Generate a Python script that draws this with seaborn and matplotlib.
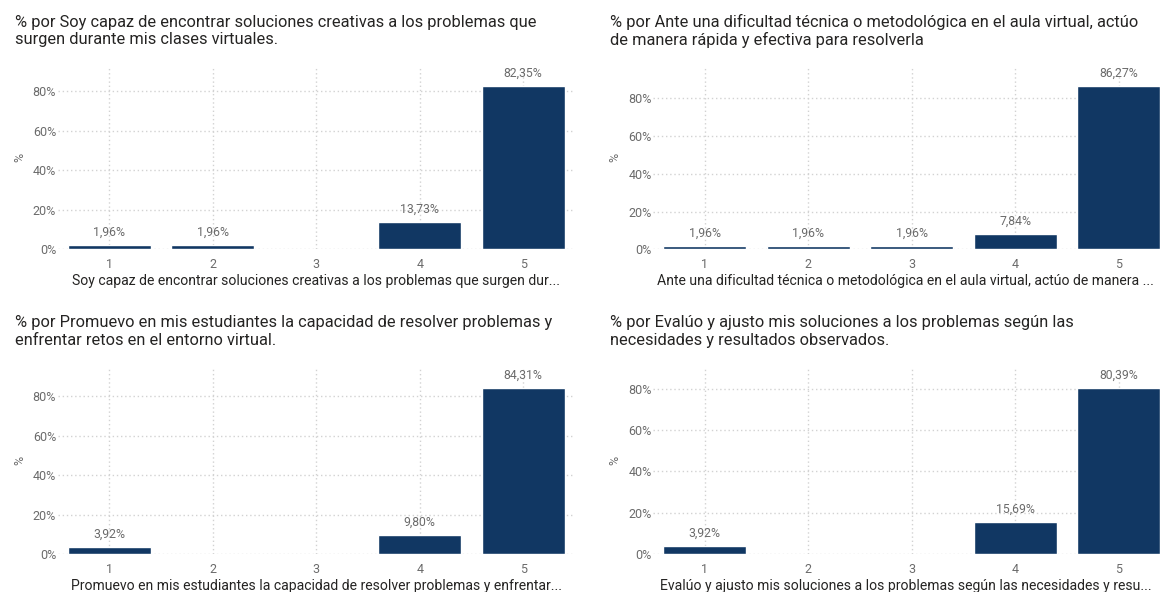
import numpy as np
import pandas as pd
import matplotlib
matplotlib.use("Agg")
import matplotlib.pyplot as plt
import seaborn as sns

# Survey responses (Likert 1-5), share of respondents in %
categories = ["1", "2", "3", "4", "5"]
creativas = [1.96, 1.96, None, 13.73, 82.35]
dificultad = [1.96, 1.96, 1.96, 7.84, 86.27]
promuevo = [3.92, None, None, 9.80, 84.31]
evaluo = [3.92, None, None, 15.69, 80.39]

titles = [
    "% por Soy capaz de encontrar soluciones creativas a los problemas que\nsurgen durante mis clases virtuales.",
    "% por Ante una dificultad técnica o metodológica en el aula virtual, actúo\nde manera rápida y efectiva para resolverla",
    "% por Promuevo en mis estudiantes la capacidad de resolver problemas y\nenfrentar retos en el entorno virtual.",
    "% por Evalúo y ajusto mis soluciones a los problemas según las\nnecesidades y resultados observados.",
]
xlabels = [
    "Soy capaz de encontrar soluciones creativas a los problemas que surgen dur...",
    "Ante una dificultad técnica o metodológica en el aula virtual, actúo de manera ...",
    "Promuevo en mis estudiantes la capacidad de resolver problemas y enfrentar...",
    "Evalúo y ajusto mis soluciones a los problemas según las necesidades y resu...",
]
series = [creativas, dificultad, promuevo, evaluo]
y_ticks = [0, 20, 40, 60, 80]

BAR = "#113763"
TITLE_C = "#252423"
MUTED = "#6b6b6b"
GRID = "#d2d2d2"

sns.set_theme(style="white")
plt.rcParams["font.family"] = ["Roboto", "DejaVu Sans"]

W, H = 1160, 592
fig = plt.figure(figsize=(W / 100, H / 100), dpi=100)
fig.patch.set_facecolor("white")

# panel boxes in pixels: left, right, top, bottom
boxes = [
    (57.5, 575.0, 66.0, 249.3),
    (653.0, 1170.5, 66.0, 249.3),
    (57.5, 575.0, 367.0, 554.3),
    (653.0, 1170.5, 367.0, 554.3),
]
title_pos = [(15, 31), (610, 31), (15, 331.5), (610, 331.5)]
xlabel_x = [0.5, 0.488, 0.5, 0.488]

for vals, title, xl, (l, r, t, b), (tx, ty), lx in zip(series, titles, xlabels, boxes,
                                                       title_pos, xlabel_x):
    ax = fig.add_axes([l / W, 1 - b / H, (r - l) / W, (b - t) / H])
    df = pd.DataFrame({"cat": categories, "pct": vals}).dropna()
    sns.barplot(data=df, x="cat", y="pct", order=categories, color=BAR,
                width=0.8, saturation=1, ax=ax, errorbar=None, zorder=3)
    vmax = np.nanmax([v for v in vals if v is not None])
    ax.set_xlim(-0.5, 4.5)
    ax.set_ylim(0, vmax * 1.125)
    ax.set_yticks(y_ticks)
    ax.set_yticklabels([f"{v}%" for v in y_ticks])
    ax.grid(True, axis="both", linestyle=(0, (1, 2)), color=GRID, linewidth=1, zorder=0)
    for s in ax.spines.values():
        s.set_visible(False)
    ax.tick_params(axis="y", length=0, pad=1, labelsize=9, labelcolor=MUTED)
    ax.tick_params(axis="x", length=0, pad=6, labelsize=9, labelcolor=MUTED)

    for p in ax.patches:
        h = p.get_height()
        if np.isnan(h):
            continue
        ax.annotate(f"{h:.2f}".replace(".", ",") + "%",
                    (p.get_x() + p.get_width() / 2, h),
                    xytext=(0, 4.5), textcoords="offset points",
                    ha="center", va="bottom", fontsize=8.8, color=MUTED)

    ax.set_ylabel("%", fontsize=9, color=MUTED)
    ax.yaxis.set_label_coords(-31.5 / (r - l), 0.5)
    ax.set_xlabel(xl, fontsize=10.1, color=TITLE_C)
    ax.xaxis.set_label_coords(lx, -24.5 / (b - t))

    fig.text(tx / W, 1 - ty / H, title, ha="left", va="center",
             fontsize=11.8, color=TITLE_C, linespacing=1.2)

fig.savefig("out.png", dpi=100, facecolor="white")
